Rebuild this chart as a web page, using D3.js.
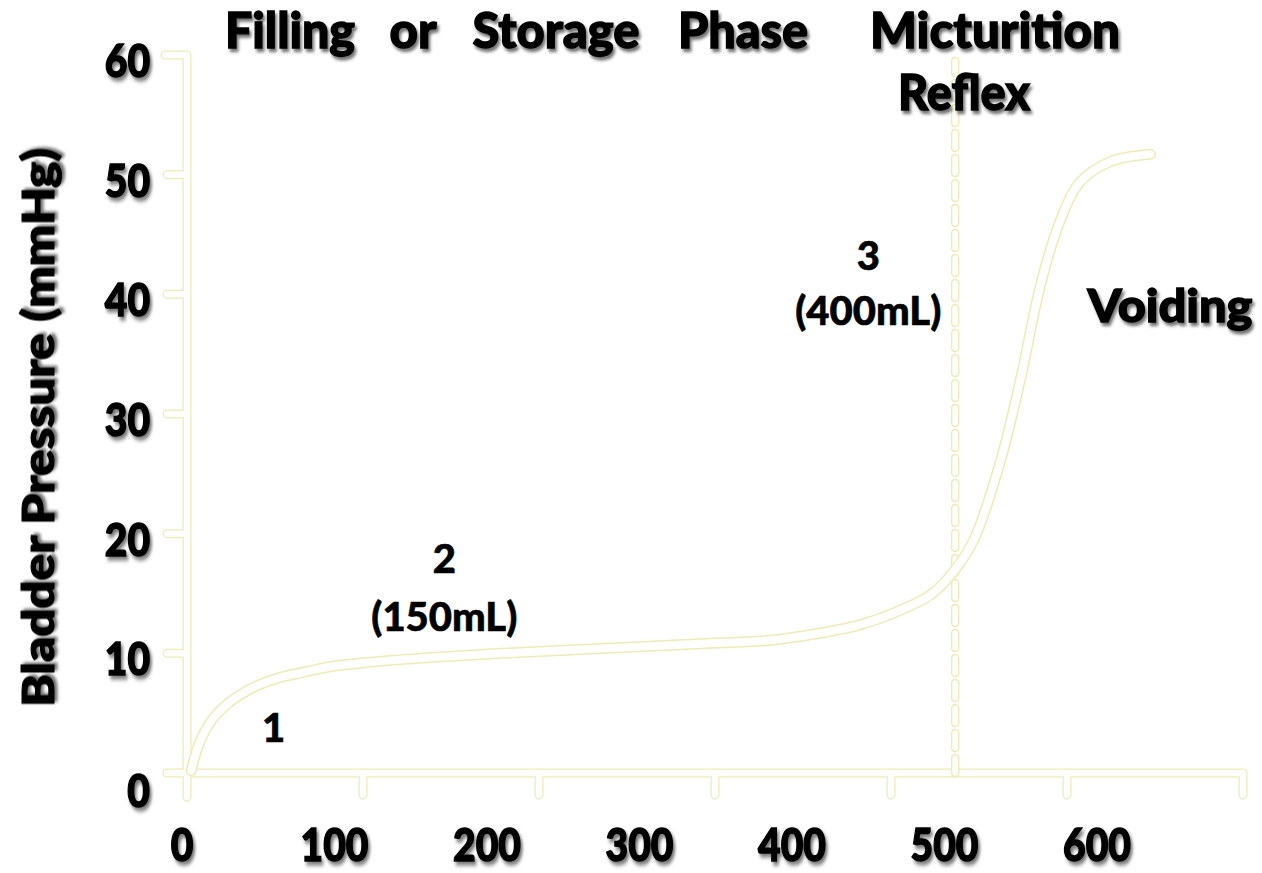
<!DOCTYPE html>
<html><head><meta charset="utf-8">
<script src="https://cdn.jsdelivr.net/npm/d3@7"></script>
<style>html,body{margin:0;padding:0;background:#fff;}svg{display:block;font-family:Lato,"Open Sans",sans-serif;font-weight:900;}</style>
</head><body>
<svg id="c" width="1262" height="873"></svg>
<script>
// ---- data ----
const volume = [6, 9, 13, 20, 30, 46, 62, 79, 98, 118, 157, 209, 275, 340, 386, 419, 445, 471, 491, 507, 520, 537, 550, 563, 576, 589, 609, 635];
const pressure = [0.2, 1.6, 3.0, 4.5, 5.8, 7.1, 7.9, 8.4, 8.9, 9.2, 9.6, 10.0, 10.4, 10.8, 11.1, 11.7, 12.4, 13.6, 14.9, 17.0, 19.7, 26.2, 33.0, 40.8, 46.2, 49.4, 51.1, 51.7];
const xTickLabels = [0, 100, 200, 300, 400, 500, 600];
const yTickLabels = [0, 10, 20, 30, 40, 50, 60];
const frameTicks = [0, 1, 2, 3, 4, 5, 6];
const reflexVolume = 507;
const titleWords = ["Filling", "or", "Storage", "Phase", "Micturition", "Reflex"];
const annotations = [
  {text: "1", v: 60, p: 2.6},
  {text: "2", v: 172, p: 16.7},
  {text: "(150mL)", v: 172, p: 11.9},
  {text: "3", v: 450, p: 42.0},
  {text: "(400mL)", v: 450, p: 37.4}
];
const yTitle = "Bladder Pressure (mmHg)";
const voidingLabel = "Voiding";

// ---- layout ----
const svg = d3.select("#c");
const x = d3.scaleLinear().domain([0, 600]).range([182, 1097]);
const y = d3.scaleLinear().domain([0, 60]).range([773, 55]);
const fx = d3.scaleLinear().domain([0, 6]).range([187, 1243]);   // decorative axis frame
const YEL = "#eeebb6";

const defs = svg.append("defs");
const f = defs.append("filter").attr("id", "sh").attr("x", "-20%").attr("y", "-20%").attr("width", "140%").attr("height", "160%");
f.append("feDropShadow").attr("dx", 2).attr("dy", 3).attr("stdDeviation", 1.6).attr("flood-color", "#000").attr("flood-opacity", 0.55);

function outlined(g, d, wOuter, wInner, dash) {
  const a = g.append("path").attr("d", d).attr("fill", "none").attr("stroke", YEL)
    .attr("stroke-width", wOuter).attr("stroke-linecap", "round").attr("stroke-linejoin", "round");
  const b = g.append("path").attr("d", d).attr("fill", "none").attr("stroke", "#fff")
    .attr("stroke-width", wInner).attr("stroke-linecap", "round").attr("stroke-linejoin", "round");
  if (dash) { a.attr("stroke-dasharray", dash); b.attr("stroke-dasharray", dash); }
}

// frame (axes) drawn as pale outlined strokes
const frame = svg.append("g");
const y0 = y(0), yTop = y(60);
let fd = "";
fd += `M${fx(0)},${y0 + 24} L${fx(0)},${yTop} L${fx(0) - 22},${yTop} `;
yTickLabels.slice(0, -1).forEach(v => { fd += `M${fx(0)},${y(v)} L${fx(0) - 20},${y(v)} `; });
fd += `M${fx(0)},${y0} L${fx(6)},${y0} L${fx(6)},${y0 + 22} `;
frameTicks.slice(1, -1).forEach(t => { fd += `M${fx(t)},${y0} L${fx(t)},${y0 + 22} `; });
outlined(frame, fd, 9, 6.5);

// dashed reflex line
outlined(svg.append("g"), `M${x(reflexVolume)},${y0} L${x(reflexVolume)},${y(59.5)}`, 8.5, 5.5, "15,10");

// curve
const line = d3.line().x(i => x(volume[i])).y(i => y(pressure[i])).curve(d3.curveCatmullRom.alpha(0.5));
outlined(svg.append("g"), line(d3.range(volume.length)), 11, 8);

// text helper
function txt(t, cx, cy, size, opts = {}) {
  const e = svg.append("text").text(t)
    .attr("transform", `translate(${cx},${cy})${opts.rot ? ` rotate(${opts.rot})` : ""} scale(1,${opts.sy || 1})`)
    .attr("text-anchor", opts.anchor || "middle").attr("font-size", size).attr("fill", "#000")
    .attr("stroke", "#000").attr("stroke-width", opts.sw == null ? 1.2 : opts.sw);
  if (opts.len) e.attr("textLength", opts.len).attr("lengthAdjust", "spacingAndGlyphs");
  if (opts.shadow) e.attr("filter", "url(#sh)");
  return e;
}

// title words
const titlePos = [[290, 48, 130], [413, 48, 47], [556, 48, 167], [743, 48, 130], [995, 48, 250], [964, 110, 132]];
titleWords.forEach((w, i) => txt(w, titlePos[i][0], titlePos[i][1], 44, {len: titlePos[i][2], sy: 1.12, shadow: true}));

// tick labels
xTickLabels.forEach(v => txt(String(v), x(v), 861, 39, {sy: 1.17, shadow: true}));
yTickLabels.forEach(v => txt(String(v), 150, y(v) + 22 + (v === 0 ? 12 : 0), 39, {anchor: "end", sy: 1.17, shadow: true}));

// axis title
txt(yTitle, 54, (148 + 707) / 2, 44, {rot: -90, len: 559, shadow: true});

// annotations
annotations.forEach(a => txt(a.text, x(a.v), y(a.p), 40, {sw: 0.6}));
txt(voidingLabel, 1170, 322, 42, {len: 165, sy: 1.1, shadow: true});
</script>
</body></html>
